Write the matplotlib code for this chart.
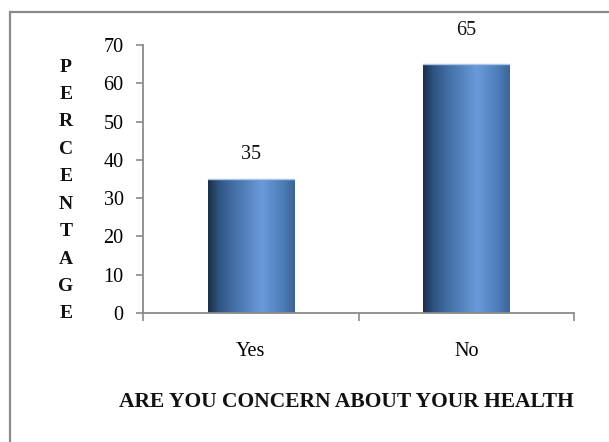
import numpy as np
import matplotlib.pyplot as plt
from matplotlib.patches import Rectangle
from matplotlib.colors import LinearSegmentedColormap

categories = ["Yes", "No"]
values = [35, 65]
yticks = [0, 10, 20, 30, 40, 50, 60, 70]
ylabel_text = "PERCENTAGE"
xlabel_text = "ARE YOU CONCERN ABOUT YOUR HEALTH"

plt.rcParams["font.family"] = ["Liberation Serif", "DejaVu Serif"]

W, H = 609, 442
fig = plt.figure(figsize=(W / 100, H / 100), dpi=100)

# outer chart frame (open on right/bottom edges of the canvas)
frame = Rectangle((10 / W, -0.05), 1.1, 1 - 12 / H + 0.05, transform=fig.transFigure,
                  fill=False, edgecolor="#8a8a8a", linewidth=1.6, zorder=0)
fig.patches.append(frame)

ax = fig.add_axes([143 / W, 1 - 313 / H, (574 - 143) / W, (313 - 45) / H])
ax.set_xlim(0, len(categories))
ax.set_ylim(0, 70)

# bar shading: dark edge, bright centre-right, muted right edge
shade = LinearSegmentedColormap.from_list(
    "bar_shade",
    [(0.0, "#1c2f48"), (0.12, "#2f5381"), (0.3, "#4470a6"),
     (0.62, "#6a9ada"), (0.85, "#4f7fba"), (1.0, "#3d6597")])
grad = np.linspace(0, 1, 256).reshape(1, -1)

bar_w = 0.4
label_gap = [6.3, 8.9]  # space between bar top and its value label (data units)
centers = np.arange(len(categories)) + 0.5
for c, v, gap in zip(centers, values, label_gap):
    x0, x1 = c - bar_w / 2, c + bar_w / 2
    im = ax.imshow(grad, cmap=shade, extent=(x0, x1, 0, v), aspect="auto",
                   interpolation="bicubic", zorder=2)
    clip = Rectangle((x0, 0), bar_w, v, transform=ax.transData,
                     facecolor="none", edgecolor="none")
    ax.add_patch(clip)
    im.set_clip_path(clip)
    ax.plot([x0, x1], [v, v], color="#a9c6ea", linewidth=1.0, zorder=3)
    ax.text(c, v + gap, f"{v}", ha="center", va="center", fontsize=14.5,
            color="#111111", clip_on=False)

for s in ("top", "right"):
    ax.spines[s].set_visible(False)
for s in ("left", "bottom"):
    ax.spines[s].set_color("#8a8a8a")
    ax.spines[s].set_linewidth(1.3)

ax.set_yticks(yticks)
ax.set_yticklabels([str(t) for t in yticks], fontsize=14.5)
ax.tick_params(axis="y", direction="out", length=5, width=1.2, color="#8a8a8a", pad=9)

# category boundaries carry the ticks; labels sit at centres
ax.set_xticks(np.arange(len(categories) + 1))
ax.set_xticklabels([])
ax.set_xticks(centers, minor=True)
ax.set_xticklabels(categories, minor=True, fontsize=14.5)
ax.tick_params(axis="x", which="major", direction="out", length=6, width=1.2, color="#8a8a8a")
ax.tick_params(axis="x", which="minor", length=0, pad=21)

# vertical stacked axis title
letters = list(ylabel_text)
top_y, bot_y = 67, 314
for i, ch in enumerate(letters):
    y = top_y + i * (bot_y - top_y) / (len(letters) - 1)
    fig.text(66 / W, 1 - y / H, ch, ha="center", va="center", fontsize=14,
             fontweight="bold", color="#111111")

fig.text(346 / W, 1 - 402 / H, xlabel_text, ha="center", va="center", fontsize=15.5,
         fontweight="bold", color="#111111")

fig.savefig("out.png", dpi=100)
